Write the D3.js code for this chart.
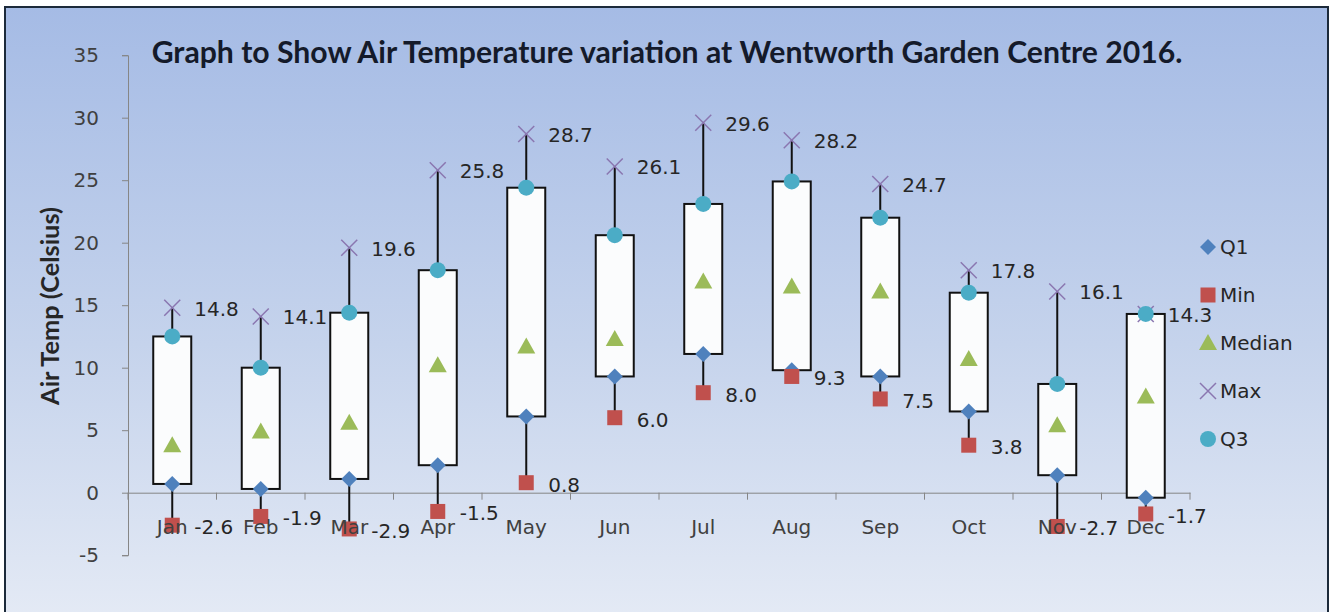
<!DOCTYPE html>
<html><head><meta charset="utf-8">
<script src="https://cdn.jsdelivr.net/npm/d3@7/dist/d3.min.js"></script>
<style>html,body{margin:0;padding:0;background:#fff;}svg{display:block;}</style>
</head><body>
<script>
const months = ["Jan","Feb","Mar","Apr","May","Jun","Jul","Aug","Sep","Oct","Nov","Dec"];
const q1Vals = [0.7, 0.3, 1.1, 2.2, 6.1, 9.3, 11.1, 9.8, 9.3, 6.5, 1.4, -0.4];
const minVals = [-2.6, -1.9, -2.9, -1.5, 0.8, 6.0, 8.0, 9.3, 7.5, 3.8, -2.7, -1.7];
const medianVals = [3.8, 4.9, 5.6, 10.2, 11.7, 12.3, 16.9, 16.5, 16.1, 10.7, 5.4, 7.7];
const maxVals = [14.8, 14.1, 19.6, 25.8, 28.7, 26.1, 29.6, 28.2, 24.7, 17.8, 16.1, 14.3];
const q3Vals = [12.5, 10.0, 14.4, 17.8, 24.4, 20.6, 23.1, 24.9, 22.0, 16.0, 8.7, 14.3];
const yTicks = [-5, 0, 5, 10, 15, 20, 25, 30, 35];
const titleText = "Graph to Show Air Temperature variation at Wentworth Garden Centre 2016.";
const yTitle = "Air Temp (Celsius)";
const legendNames = ["Q1", "Min", "Median", "Max", "Q3"];

const W = 1333, H = 612;
const FONT = "'DejaVu Sans', Verdana, sans-serif";
const TFONT = "Lato, 'Open Sans', sans-serif";
const FS = 20;
const colors = {Q1:"#4f81bd", Min:"#c0504d", Median:"#9bbb59", Max:"#8a76b0", Q3:"#4bacc6"};

const svg = d3.select("body").append("svg").attr("width", W).attr("height", H);
const defs = svg.append("defs");
const grad = defs.append("linearGradient").attr("id","bg").attr("x1",0).attr("y1",0).attr("x2",0).attr("y2",1);
grad.append("stop").attr("offset","0%").attr("stop-color","#a5bbe5");
grad.append("stop").attr("offset","55%").attr("stop-color","#c5d3ec");
grad.append("stop").attr("offset","100%").attr("stop-color","#e4eaf5");

svg.append("rect").attr("x",5).attr("y",7).attr("width",1323).attr("height",H).attr("fill","url(#bg)")
  .attr("stroke","#1c2a3a").attr("stroke-width",2);

const x = d3.scaleBand().domain(months).range([128, 1190]).padding(0);
const y = d3.scaleLinear().domain([-5, 35]).range([555.2, 55.2]);
const cx = m => x(m) + x.bandwidth()/2;

// Y axis
const yAxis = svg.append("g").attr("transform","translate(128,0)")
  .call(d3.axisLeft(y).tickValues(yTicks).tickSize(6).tickPadding(23).tickFormat(d => String(d)));
yAxis.select(".domain").attr("stroke","#868686");
yAxis.selectAll(".tick line").attr("stroke","#868686");
yAxis.selectAll("text").attr("font-family",FONT).attr("font-size",FS).attr("fill","#404040");

// X axis at zero
const xAxis = svg.append("g").attr("transform",`translate(0,${y(0)})`)
  .call(d3.axisBottom(x).tickSize(0).tickFormat(""));
xAxis.select(".domain").attr("stroke","#868686");
svg.append("g").selectAll("line").data(d3.range(months.length+1)).join("line")
  .attr("x1", i => 128 + i*x.bandwidth()).attr("x2", i => 128 + i*x.bandwidth())
  .attr("y1", y(0)).attr("y2", y(0)+7).attr("stroke","#868686");

const rows = months.map((m,i)=>({m, q1:q1Vals[i], min:minVals[i], med:medianVals[i], max:maxVals[i], q3:q3Vals[i]}));

// whiskers
svg.append("g").selectAll("line").data(rows).join("line")
  .attr("x1", d=>cx(d.m)).attr("x2", d=>cx(d.m))
  .attr("y1", d=>y(d.min)).attr("y2", d=>y(d.max))
  .attr("stroke","#111").attr("stroke-width",2);

// boxes
const bw = 38;
svg.append("g").selectAll("rect").data(rows).join("rect")
  .attr("x", d=>cx(d.m)-bw/2).attr("width", bw)
  .attr("y", d=>y(Math.max(d.q1,d.q3))).attr("height", d=>Math.abs(y(d.q1)-y(d.q3)))
  .attr("fill","#fbfcfd").attr("stroke","#111").attr("stroke-width",2);

// markers
function drawMarker(g, type, px, py){
  if(type==="Q1"){
    g.append("path").attr("d",`M${px},${py-8}L${px+8},${py}L${px},${py+8}L${px-8},${py}Z`).attr("fill",colors.Q1);
  } else if(type==="Min"){
    g.append("rect").attr("x",px-7.5).attr("y",py-7.5).attr("width",15).attr("height",15).attr("fill",colors.Min);
  } else if(type==="Median"){
    g.append("path").attr("d",`M${px},${py-9}L${px+9},${py+7}L${px-9},${py+7}Z`).attr("fill",colors.Median);
  } else if(type==="Max"){
    g.append("path").attr("d",`M${px-8},${py-8}L${px+8},${py+8}M${px-8},${py+8}L${px+8},${py-8}`)
      .attr("stroke",colors.Max).attr("stroke-width",1.5).attr("fill","none");
  } else if(type==="Q3"){
    g.append("circle").attr("cx",px).attr("cy",py).attr("r",8).attr("fill",colors.Q3);
  }
}
const series = [["Q1","q1"],["Min","min"],["Median","med"],["Max","max"],["Q3","q3"]];
const mg = svg.append("g");
series.forEach(([name,key])=>{
  rows.forEach(d=>drawMarker(mg, name, cx(d.m), y(d[key])));
});

// data labels (max & min)
const lg = svg.append("g").attr("font-family",FONT).attr("font-size",FS).attr("fill","#262626");
lg.selectAll("text.mx").data(rows).join("text").attr("class","mx")
  .attr("x", d=>cx(d.m)+22).attr("y", d=>y(d.max)+8).text(d=>d.max.toFixed(1));
lg.selectAll("text.mn").data(rows).join("text").attr("class","mn")
  .attr("x", d=>cx(d.m)+22).attr("y", d=>y(d.min)+9).text(d=>d.min.toFixed(1));

// category labels
svg.append("g").selectAll("text").data(months).join("text")
  .attr("x", m=>cx(m)).attr("y", 534).attr("text-anchor","middle")
  .attr("font-family",FONT).attr("font-size",FS).attr("fill","#404040").text(m=>m);

// title
const t = svg.append("text").attr("x",667).attr("y",52).attr("dy","0.35em").attr("text-anchor","middle")
  .attr("font-family",TFONT).attr("font-weight","bold").attr("font-size",21).attr("fill","#141a2a").text(titleText);
const tw = t.node().getComputedTextLength();
t.attr("font-size", 21*1031/tw);

// y title
const yt = svg.append("text").attr("transform","translate(50,306) rotate(-90)").attr("dy","0.35em")
  .attr("text-anchor","middle").attr("font-family",TFONT).attr("font-weight","bold").attr("font-size",18)
  .attr("fill","#262626").text(yTitle);
const yw = yt.node().getComputedTextLength();
yt.attr("font-size", 18*198/yw);

// legend
const leg = svg.append("g");
legendNames.forEach((n,i)=>{
  const ly = 247 + i*48;
  drawMarker(leg, n, 1208, ly);
  leg.append("text").attr("x",1220).attr("y",ly).attr("dy","0.36em").attr("font-family",FONT)
    .attr("font-size",FS).attr("fill","#262626").text(n);
});
</script>
</body></html>
